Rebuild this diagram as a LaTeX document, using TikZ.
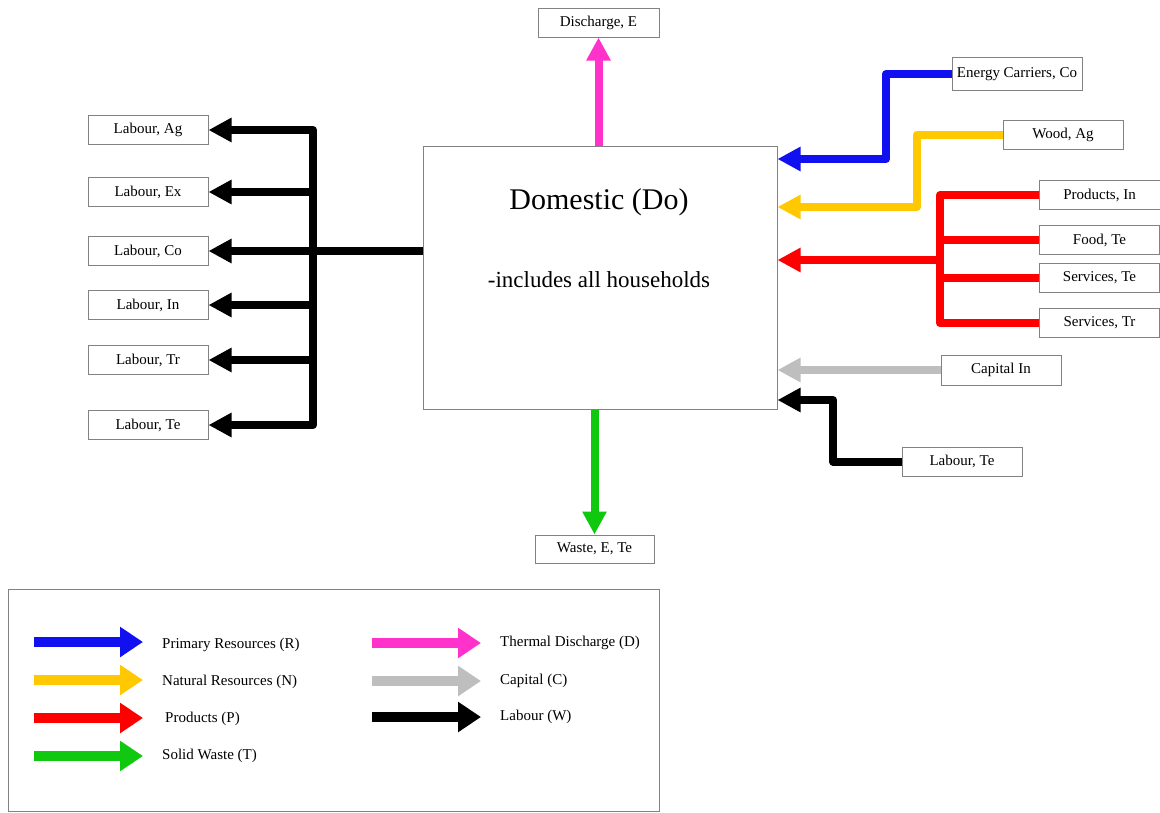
\documentclass[tikz,border=0pt]{standalone}
\usepackage{fontspec}
\setmainfont{Liberation Serif}
\usetikzlibrary{arrows.meta}
\definecolor{flowblue}{RGB}{16,16,240}
\definecolor{flowyellow}{RGB}{255,200,0}
\definecolor{flowred}{RGB}{255,0,0}
\definecolor{flowgreen}{RGB}{16,200,16}
\definecolor{flowpink}{RGB}{255,51,204}
\definecolor{flowgrey}{RGB}{190,190,190}
\definecolor{edgegrey}{RGB}{130,130,130}
\tikzset{
  lbl/.style={draw=edgegrey, line width=1pt, minimum width=120pt, minimum height=29pt,
    inner sep=2pt, font=\fontsize{15}{18}\selectfont},
  flow/.style={line width=8pt, line join=round, -{Triangle[length=23pt,width=23pt]}},
  flowline/.style={line width=8pt, line join=round},
  legflow/.style={line width=9.5pt, -{Triangle[length=23pt,width=29pt]}},
  legtxt/.style={anchor=west, font=\fontsize{15}{18}\selectfont, inner sep=0pt},
}
\begin{document}
\begin{tikzpicture}[x=1pt,y=-1pt]
\useasboundingbox (0,0) rectangle (1160,812);

% central sector box
\node[draw=edgegrey, line width=1pt, minimum width=354pt, minimum height=263pt, inner sep=0pt]
  (Do) at (600,277.5) {};
\node[font=\fontsize{30}{36}\selectfont] (DoTitle) at (599,202) {Domestic (Do)};
\node[font=\fontsize{23}{28}\selectfont] (DoSub) at (599,280) {-includes all households};

% top and bottom outputs
\node[lbl, minimum width=121pt] (disE) at (598.5,22.5) {Discharge, E};
\node[lbl, minimum width=119pt, minimum height=28pt] (wasteE) at (594.5,549) {Waste, E, Te};
\draw[flow, flowpink] (Do.north -| disE.south) -- (disE.south);
\draw[flow, flowgreen] (Do.south -| wasteE.north) -- (wasteE.north);

% labour outputs on the left
\node[lbl] (labAg) at (148,130) {Labour, Ag};
\node[lbl] (labEx) at (148,192) {Labour, Ex};
\node[lbl] (labCo) at (148,251) {Labour, Co};
\node[lbl] (labIn) at (148,305) {Labour, In};
\node[lbl] (labTr) at (148,360) {Labour, Tr};
\node[lbl] (labTe) at (148,425) {Labour, Te};
\coordinate (lhub) at (313,251);
\draw[flowline] (lhub -| Do.west) -- (lhub);
\draw[flow] (lhub) |- (labAg.east);
\draw[flow] (lhub) |- (labEx.east);
\draw[flow] (lhub) -- (labCo.east);
\draw[flow] (lhub) |- (labIn.east);
\draw[flow] (lhub) |- (labTr.east);
\draw[flow] (lhub) |- (labTe.east);

% inputs on the right
\node[lbl, minimum width=130pt, minimum height=33pt] (enCo) at (1017,74) {Energy Carriers, Co};
\node[lbl] (woodAg) at (1063,134.5) {Wood, Ag};
\node[lbl, minimum width=121pt] (prodIn) at (1099.5,195) {Products, In};
\node[lbl] (foodTe) at (1099.5,240) {Food, Te};
\node[lbl] (servTe) at (1099.5,278) {Services, Te};
\node[lbl] (servTr) at (1099.5,323) {Services, Tr};
\node[lbl, minimum height=30pt] (capIn) at (1001,370) {Capital In};
\node[lbl] (labTeR) at (962,461.5) {Labour, Te};

\coordinate (bcorner) at (886,159);
\draw[flow, flowblue] (enCo.west) -| (bcorner) -- (bcorner -| Do.east);
\coordinate (ycorner) at (917,207);
\draw[flow, flowyellow] (woodAg.west) -| (ycorner) -- (ycorner -| Do.east);
\coordinate (rhub) at (940,260);
\draw[flowline, flowred] (prodIn.west) -| (rhub);
\draw[flowline, flowred] (foodTe.west) -| (rhub);
\draw[flowline, flowred] (servTe.west) -| (rhub);
\draw[flowline, flowred] (servTr.west) -| (rhub);
\draw[flow, flowred] (rhub) -- (rhub -| Do.east);
\draw[flow, flowgrey] (capIn.west) -- (capIn.west -| Do.east);
\coordinate (kcorner) at (833,400);
\draw[flow] (labTeR.west) -| (kcorner) -- (kcorner -| Do.east);

% legend
\draw[edgegrey, line width=1pt] (8,589) rectangle (659,811);
\node[legtxt] (legR) at (162,645) {Primary Resources (R)};
\node[legtxt] (legN) at (162,682) {Natural Resources (N)};
\node[legtxt] (legP) at (165,719) {Products (P)};
\node[legtxt] (legT) at (162,756) {Solid Waste (T)};
\node[legtxt] (legD) at (500,643) {Thermal Discharge (D)};
\node[legtxt] (legC) at (500,681) {Capital (C)};
\node[legtxt] (legW) at (500,717) {Labour (W)};
\draw[legflow, flowblue] (34,642) -- (143,642);
\draw[legflow, flowyellow] (34,680) -- (143,680);
\draw[legflow, flowred] (34,718) -- (143,718);
\draw[legflow, flowgreen] (34,756) -- (143,756);
\draw[legflow, flowpink] (372,643) -- (481,643);
\draw[legflow, flowgrey] (372,681) -- (481,681);
\draw[legflow] (372,717) -- (481,717);
\end{tikzpicture}
\end{document}
